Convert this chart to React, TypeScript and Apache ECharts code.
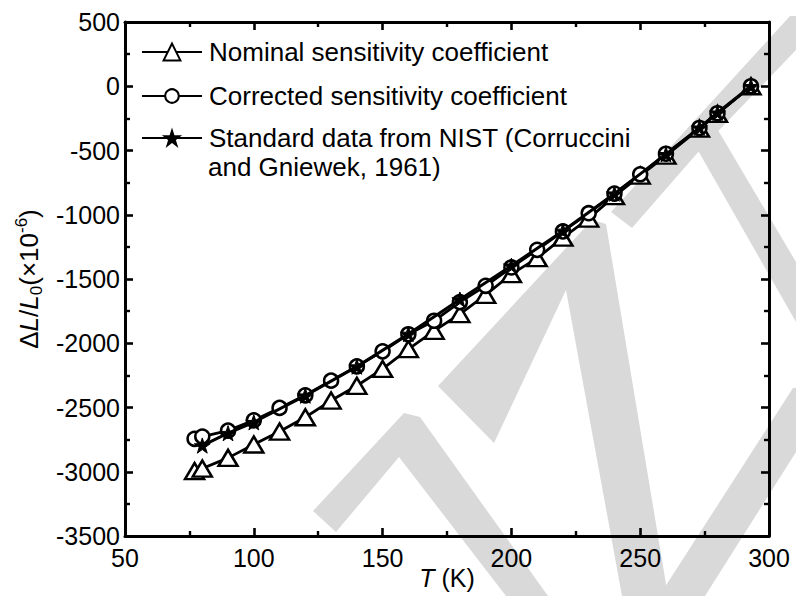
import React, { useEffect, useRef } from "react";
import * as echarts from "echarts";

// Temperatures (K) for the strain-gauge derived curves
const tempK = [77, 80, 90, 100, 110, 120, 130, 140, 150, 160, 170, 180, 190, 200, 210, 220, 230, 240, 250, 260, 273, 280, 293];
// Nominal sensitivity coefficient (ΔL/L0, ×10^-6)
const nominal = [-2995, -2975, -2892, -2788, -2687, -2576, -2446, -2331, -2200, -2045, -1903, -1773, -1623, -1462, -1338, -1178, -1030, -855, -695, -540, -330, -215, 0];
// Corrected sensitivity coefficient
const corrected = [-2744, -2726, -2680, -2600, -2503, -2405, -2291, -2180, -2063, -1930, -1825, -1680, -1553, -1410, -1273, -1130, -988, -835, -685, -525, -325, -210, 0];
// NIST standard data
const nistT = [80, 90, 100, 120, 140, 160, 180, 200, 220, 240, 260, 273, 280, 293];
const nist = [-2796, -2700, -2615, -2408, -2182, -1928, -1660, -1397, -1126, -836, -530, -323, -206, 0];

const NAME1 = "Nominal sensitivity coefficient";
const NAME2 = "Corrected sensitivity coefficient";
const NAME3 = "Standard data from NIST (Corruccini and Gniewek, 1961)";

const STAR =
  "path://M100,0L122.45,69.1L195.1,69.1L136.3,111.8L158.8,180.9L100,138.2L41.2,180.9L63.7,111.8L4.9,69.1L77.55,69.1Z";

const FONT = "'Liberation Sans', Arial, sans-serif";

export default function App() {
  const ref = useRef<HTMLDivElement>(null);
  useEffect(() => {
    const chart = echarts.init(ref.current!, null, { renderer: "svg" });
    const line = { color: "#000", width: 3 };
    const tick = { show: true, inside: true, length: 8, lineStyle: { color: "#000", width: 2.6 } };
    const minor = { show: true, splitNumber: 2, length: 5, lineStyle: { color: "#000", width: 2.4 } };
    const gray = "#d9d9d9";
    const wm = (pts: number[][]) => ({
      type: "polygon",
      silent: true,
      z: -10,
      shape: { points: pts },
      style: { fill: gray },
    });
    const legendBase = {
      left: 141,
      padding: 0,
      itemWidth: 60,
      selectedMode: false,
      textStyle: { fontSize: 26, fontFamily: FONT, color: "#000", lineHeight: 26, padding: [0, 0, 0, 2] },
    };
    chart.setOption({
      animation: false,
      backgroundColor: "#fff",
      grid: { left: 125, right: 27, top: 22, bottom: 60, containLabel: false, outerBoundsMode: "none" },
      graphic: [
        wm([[313, 511], [404, 413], [420, 417], [548, 596], [506, 596], [399, 457], [336, 532]]),
        wm([[438, 386], [592, 220], [606, 224], [668, 596], [622, 596], [566, 290], [494, 443]]),
        wm([[611, 212], [790, 16], [796, 16], [796, 50], [700, 150], [632, 228]]),
        wm([[692, 140], [712, 120], [796, 262], [796, 322]]),
        wm([[663, 590], [793, 388], [796, 388], [796, 452], [705, 596], [663, 596]]),
        {
          type: "text",
          x: 208,
          y: 167,
          z: 10,
          style: {
            text: "and Gniewek, 1961)",
            fontSize: 26,
            fontFamily: FONT,
            fill: "#000",
            verticalAlign: "middle",
          },
        },
      ],
      legend: [
        { ...legendBase, top: 39, itemHeight: 21, data: [NAME1] },
        { ...legendBase, top: 83, itemHeight: 17, data: [NAME2] },
        {
          ...legendBase,
          top: 125,
          itemHeight: 18,
          data: [NAME3],
          formatter: () => "Standard data from NIST (Corruccini",
        },
      ],
      xAxis: [
        {
          type: "value",
          position: "bottom",
          min: 50,
          max: 300,
          interval: 50,
          axisLine: { show: true, onZero: false, lineStyle: line },
          axisTick: tick,
          minorTick: minor,
          splitLine: { show: false },
          axisLabel: { color: "#000", fontSize: 25, fontFamily: FONT, margin: 9, formatter: (v: number) => String(v) },
          name: "{i|T} {n|(K)}",
          nameLocation: "middle",
          nameGap: 28,
          nameMoveOverlap: false,
          nameTextStyle: {
            color: "#000",
            fontSize: 25,
            fontFamily: FONT,
            lineHeight: 28,
            rich: {
              i: { fontStyle: "italic", fontSize: 25, fontFamily: FONT, color: "#000", lineHeight: 28 },
              n: { fontSize: 25, fontFamily: FONT, color: "#000", lineHeight: 28 },
            },
          },
        },
        {
          type: "value",
          position: "top",
          min: 50,
          max: 300,
          interval: 50,
          axisLine: { show: true, onZero: false, lineStyle: line },
          axisTick: tick,
          minorTick: minor,
          splitLine: { show: false },
          axisLabel: { show: false },
        },
      ],
      yAxis: [
        {
          type: "value",
          position: "left",
          min: -3500,
          max: 500,
          interval: 500,
          axisLine: { show: true, onZero: false, lineStyle: line },
          axisTick: tick,
          minorTick: minor,
          splitLine: { show: false },
          axisLabel: { color: "#000", fontSize: 25, fontFamily: FONT, margin: 5, formatter: (v: number) => String(v) },
          name: "{n|Δ}{i|L}{n|/}{i|L}{sub|0}{n|(×10}{sup|-6}{n|)}",
          nameLocation: "middle",
          nameRotate: 90,
          nameGap: 80,
          nameMoveOverlap: false,
          nameTextStyle: {
            color: "#000",
            fontSize: 26,
            fontFamily: FONT,
            rich: {
              n: { fontSize: 26, fontFamily: FONT, color: "#000", lineHeight: 32 },
              i: { fontSize: 26, fontFamily: FONT, color: "#000", fontStyle: "italic", lineHeight: 32 },
              sub: { fontSize: 17, fontFamily: FONT, color: "#000", verticalAlign: "bottom", lineHeight: 17 },
              sup: { fontSize: 17, fontFamily: FONT, color: "#000", verticalAlign: "top", lineHeight: 17 },
            },
          },
        },
        {
          type: "value",
          position: "right",
          min: -3500,
          max: 500,
          interval: 500,
          axisLine: { show: true, onZero: false, lineStyle: line },
          axisTick: tick,
          minorTick: minor,
          splitLine: { show: false },
          axisLabel: { show: false },
        },
      ],
      series: [
        {
          type: "line",
          name: NAME1,
          data: tempK.map((t, i) => [t, nominal[i]]),
          symbol: "triangle",
          symbolSize: [19, 16],
          lineStyle: { color: "#000", width: 2.8 },
          itemStyle: { color: "#fff", borderColor: "#000", borderWidth: 2.5 },
          z: 2,
        },
        {
          type: "line",
          name: NAME2,
          data: tempK.map((t, i) => [t, corrected[i]]),
          symbol: "circle",
          symbolSize: 14,
          lineStyle: { color: "#000", width: 2.8 },
          itemStyle: { color: "#fff", borderColor: "#000", borderWidth: 2.5 },
          z: 3,
        },
        {
          type: "line",
          name: NAME3,
          data: nistT.map((t, i) => [t, nist[i]]),
          symbol: STAR,
          symbolSize: 16,
          symbolKeepAspect: true,
          lineStyle: { color: "#000", width: 3 },
          itemStyle: { color: "#000", borderColor: "#000", borderWidth: 1 },
          z: 4,
        },
      ],
    });
    return () => chart.dispose();
  }, []);
  return <div ref={ref} style={{ position: "absolute", left: 0, top: 0, width: 796, height: 596 }} />;
}
